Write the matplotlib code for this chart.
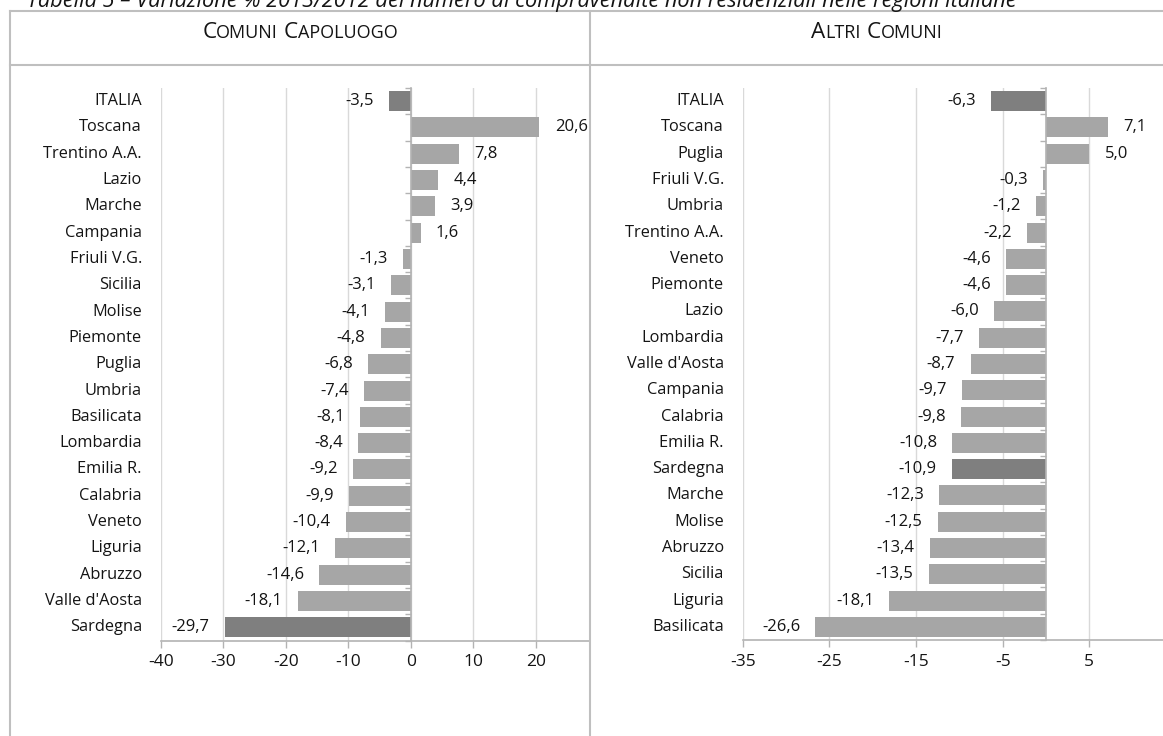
import matplotlib
matplotlib.use('Agg')
import matplotlib.pyplot as plt
from matplotlib.lines import Line2D
from matplotlib.transforms import Bbox

W, H = 1163, 736
plt.rcParams['font.family'] = ['Open Sans', 'DejaVu Sans']

# ---------------- data ----------------
title_text = "Tabella 5 – Variazione % 2013/2012 del numero di compravendite non residenziali nelle regioni italiane"

left_header = [("C", True), ("OMUNI", False), (" ", None), ("C", True), ("APOLUOGO", False)]
right_header = [("A", True), ("LTRI", False), (" ", None), ("C", True), ("OMUNI", False)]

left_regions = ["ITALIA", "Toscana", "Trentino A.A.", "Lazio", "Marche", "Campania",
                "Friuli V.G.", "Sicilia", "Molise", "Piemonte", "Puglia", "Umbria",
                "Basilicata", "Lombardia", "Emilia R.", "Calabria", "Veneto", "Liguria",
                "Abruzzo", "Valle d'Aosta", "Sardegna"]
left_values = [-3.5, 20.6, 7.8, 4.4, 3.9, 1.6, -1.3, -3.1, -4.1, -4.8, -6.8, -7.4,
               -8.1, -8.4, -9.2, -9.9, -10.4, -12.1, -14.6, -18.1, -29.7]
left_dark = ["ITALIA", "Sardegna"]
left_ticks = [-40, -30, -20, -10, 0, 10, 20, 30]

right_regions = ["ITALIA", "Toscana", "Puglia", "Friuli V.G.", "Umbria", "Trentino A.A.",
                 "Veneto", "Piemonte", "Lazio", "Lombardia", "Valle d'Aosta", "Campania",
                 "Calabria", "Emilia R.", "Sardegna", "Marche", "Molise", "Abruzzo",
                 "Sicilia", "Liguria", "Basilicata"]
right_values = [-6.3, 7.1, 5.0, -0.3, -1.2, -2.2, -4.6, -4.6, -6.0, -7.7, -8.7, -9.7,
                -9.8, -10.8, -10.9, -12.3, -12.5, -13.4, -13.5, -18.1, -26.6]
right_dark = ["ITALIA", "Sardegna"]
right_ticks = [-35, -25, -15, -5, 5]

LIGHT = "#a6a6a6"
DARK = "#7f7f7f"
GRID = "#d9d9d9"
AXIS = "#b3b3b3"
FRAME = "#bfbfbf"
TXT = "#141414"

LABEL_FS = 11.8
VALUE_FS = 12
TICK_FS = 12.5

fig = plt.figure(figsize=(W / 100, H / 100), dpi=100)


def fx(px):
    return px / W


def fy(py):
    return 1 - py / H


def fmt(v):
    return ("%.1f" % v).replace(".", ",")


def panel(x0, y0, x1, y1, cats, values, dark, xlim, ticks):
    ax = fig.add_axes([fx(x0), fy(y1), (x1 - x0) / W, (y1 - y0) / H])
    n = len(cats)
    ypos = list(range(n))
    colors = [DARK if c in dark else LIGHT for c in cats]
    ax.barh(ypos, values, height=0.76, color=colors, zorder=3)
    ax.set_ylim(n - 0.5, -0.5)
    ax.set_xlim(*xlim)
    vis = [t for t in ticks if xlim[0] <= t <= xlim[1]]
    ax.set_xticks(vis)
    ax.set_xticklabels([str(t) for t in vis])
    ax.tick_params(axis='x', direction='out', length=5, width=1, color=AXIS,
                   labelsize=TICK_FS, labelcolor=TXT, pad=5)
    ax.grid(axis='x', color=GRID, lw=1, zorder=0)
    ax.set_axisbelow(True)
    for s in ['top', 'right']:
        ax.spines[s].set_visible(False)
    ax.spines['bottom'].set_color(AXIS)
    ax.spines['bottom'].set_linewidth(1.2)
    ax.spines['left'].set_position(('data', 0))
    ax.spines['left'].set_color(AXIS)
    ax.spines['left'].set_linewidth(1.2)
    ax.spines['left'].set_zorder(4)
    ax.set_yticks([i - 0.5 for i in range(n + 1)])
    ax.set_yticklabels([])
    ax.tick_params(axis='y', direction='out', length=4, width=1, color=AXIS)
    for i, (c, v) in enumerate(zip(cats, values)):
        ax.annotate(c, xy=(0, i), xycoords=('axes fraction', 'data'),
                    xytext=(-13.5, 0), textcoords='offset points',
                    ha='right', va='center', fontsize=LABEL_FS, color=TXT)
        off = 11 if v >= 0 else -11
        ax.annotate(fmt(v), xy=(v, i), xycoords='data', xytext=(off, 0),
                    textcoords='offset points', ha='left' if v >= 0 else 'right',
                    va='center', fontsize=VALUE_FS, color=TXT)
    return ax


axL = panel(160.7, 88, 590, 640.5, left_regions, left_values, left_dark,
            (-40, (590 - 410.7) / 6.25), left_ticks)
axR = panel(742.7, 88, 1163, 640, right_regions, right_values, right_dark,
            (-35, (1163 - 1046) / 8.666), right_ticks)

# tick label "30" clipped by the table border
lbl = axL.annotate("30", xy=(30, 0), xycoords=('data', 'axes fraction'),
                   xytext=(0, -8.6), textcoords='offset points', ha='center', va='top',
                   fontsize=TICK_FS, color=TXT, annotation_clip=False)
lbl.set_clip_on(True)
lbl.set_clip_box(Bbox.from_extents(0, 0, 589, H))

# ---------------- table frame ----------------
def hline(y, xa, xb):
    fig.add_artist(Line2D([fx(xa), fx(xb)], [fy(y), fy(y)], color=FRAME, lw=1.5,
                          transform=fig.transFigure))


def vline(x, ya, yb):
    fig.add_artist(Line2D([fx(x), fx(x)], [fy(ya), fy(yb)], color=FRAME, lw=1.5,
                          transform=fig.transFigure))


hline(11, 9.5, W)
hline(65, 9.5, W)
vline(9.5, 11, H)
vline(589.5, 11, H)

# title (cut at the top of the picture)
fig.text(fx(27), fy(7.5), title_text, ha='left', va='baseline', fontsize=15.7,
         style='italic', color=TXT)

# small-caps headers
renderer = fig.canvas.get_renderer()


def smallcaps(cx, base_y, parts, big=16.2, small=13.0):
    texts = []
    widths = []
    for s, isbig in parts:
        if isbig is None:
            texts.append(None)
            widths.append(6)
            continue
        t = fig.text(0, fy(base_y), s, fontsize=big if isbig else small,
                     va='baseline', ha='left', color=TXT)
        w = t.get_window_extent(renderer).width
        texts.append(t)
        widths.append(w)
    total = sum(widths)
    x = cx - total / 2
    for t, w in zip(texts, widths):
        if t is not None:
            t.set_x(fx(x))
        x += w


smallcaps(300, 37.5, left_header)
smallcaps(877, 37.5, right_header)

fig.savefig("out.png", dpi=100)
